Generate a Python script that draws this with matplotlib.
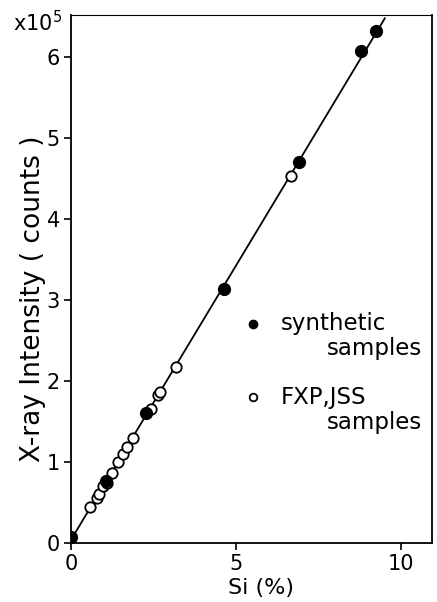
import matplotlib
matplotlib.use("Agg")
import matplotlib.pyplot as plt

# Data (Si %, X-ray intensity in 1e5 counts)
synthetic_x = [0.0, 1.05, 2.27, 4.64, 6.92, 8.81, 9.24]
synthetic_y = [0.08, 0.76, 1.60, 3.14, 4.71, 6.07, 6.32]
fxp_jss_x = [0.58, 0.78, 0.86, 0.98, 1.08, 1.23, 1.43, 1.57, 1.69, 1.89,
             2.44, 2.65, 2.70, 3.20, 6.66]
fxp_jss_y = [0.45, 0.55, 0.60, 0.70, 0.74, 0.86, 1.00, 1.10, 1.19, 1.30,
             1.66, 1.83, 1.87, 2.17, 4.53]
fit_x = [0.0, 9.52]
fit_y = [0.04, 6.48]

x_ticks = [0, 5, 10]
y_ticks = [0, 1, 2, 3, 4, 5, 6]

plt.rcParams['font.family'] = ['DejaVu Sans']
fig = plt.figure(figsize=(4.37, 6.02), dpi=100)
ax = fig.add_axes([0.1625, 0.098, 0.826, 0.877])

ax.plot(fit_x, fit_y, color='black', lw=1.3, zorder=1)
ax.plot(fxp_jss_x, fxp_jss_y, 'o', ms=7.5, mfc='white', mec='black', mew=1.3,
        linestyle='none', zorder=2)
ax.plot(synthetic_x, synthetic_y, 'o', ms=8.5, mfc='black', mec='black',
        linestyle='none', zorder=3)

ax.set_xlim(0, 10.95)
ax.set_ylim(0, 6.52)
ax.set_xticks(x_ticks)
ax.set_yticks(y_ticks)
ax.tick_params(direction='out', length=5, width=1.2, labelsize=15, pad=3)
for s in ax.spines.values():
    s.set_linewidth(1.3)
ax.spines['top'].set_linewidth(0.8)

ax.set_xlabel('Si (%)', fontsize=16)
ax.xaxis.set_label_coords(0.526, -0.066)
ax.set_ylabel('X-ray Intensity ( counts )', fontsize=19)
ax.yaxis.set_label_coords(-0.07, 0.462)

fig.text(0.03, 0.962, r'x10$^5$', fontsize=15, ha='left', va='center')

# legend drawn manually
ax.plot([0.504], [0.415], 'o', ms=6, mfc='black', mec='black',
        transform=ax.transAxes, clip_on=False)
ax.text(0.58, 0.415, 'synthetic', fontsize=16.5, transform=ax.transAxes,
        ha='left', va='center')
ax.text(0.972, 0.369, 'samples', fontsize=16.5, transform=ax.transAxes,
        ha='right', va='center')
ax.plot([0.504], [0.2765], 'o', ms=5.5, mfc='white', mec='black', mew=1.3,
        transform=ax.transAxes, clip_on=False)
ax.text(0.58, 0.2765, 'FXP,JSS', fontsize=16.5, transform=ax.transAxes,
        ha='left', va='center')
ax.text(0.972, 0.229, 'samples', fontsize=16.5, transform=ax.transAxes,
        ha='right', va='center')

fig.savefig('out.png', dpi=100)
